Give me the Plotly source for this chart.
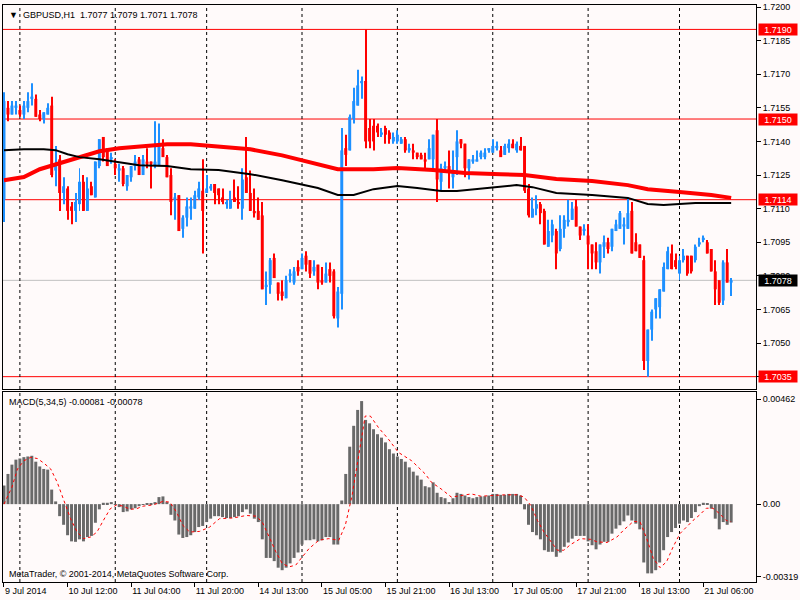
import plotly.graph_objects as go

# GBPUSD H1, bar 0 = 9 Jul 2014 20:00
opens = [1.7114, 1.7155, 1.7152, 1.7155, 1.7154, 1.7152, 1.7155, 1.7159, 1.7159, 1.7152,
         1.7150, 1.7152, 1.7156, 1.7127, 1.7132, 1.7117, 1.7119, 1.7111, 1.7109, 1.7112,
         1.7122, 1.7109, 1.7120, 1.7115, 1.7129, 1.7142, 1.7136, 1.7132, 1.7130, 1.7127,
         1.7128, 1.7120, 1.7124, 1.7129, 1.7132, 1.7125, 1.7131, 1.7131, 1.7129, 1.7129,
         1.7137, 1.7133, 1.7125, 1.7114, 1.7116, 1.7101, 1.7106, 1.7110, 1.7110, 1.7115,
         1.7118, 1.7117, 1.7119, 1.7121, 1.7119, 1.7115, 1.7112, 1.7110, 1.7115, 1.7113,
         1.7110, 1.7124, 1.7117, 1.7109, 1.7109, 1.7107, 1.7075, 1.7076, 1.7088, 1.7077,
         1.7073, 1.7070, 1.7080, 1.7077, 1.7084, 1.7083, 1.7089, 1.7087, 1.7082, 1.7085,
         1.7078, 1.7077, 1.7083, 1.7082, 1.7061, 1.7072, 1.7137, 1.7136, 1.7150, 1.7156,
         1.7166, 1.7167, 1.7146, 1.7147, 1.7147, 1.7143, 1.7146, 1.7144, 1.7140, 1.7140,
         1.7139, 1.7141, 1.7136, 1.7136, 1.7135, 1.7134, 1.7132, 1.7132, 1.7132, 1.7145,
         1.7122, 1.7128, 1.7129, 1.7124, 1.7133, 1.7141, 1.7139, 1.7128, 1.7131, 1.7131,
         1.7133, 1.7133, 1.7136, 1.7135, 1.7137, 1.7136, 1.7134, 1.7137, 1.7139, 1.7136,
         1.7138, 1.7138, 1.7119, 1.7106, 1.7110, 1.7112, 1.7109, 1.7093, 1.7098, 1.7100,
         1.7092, 1.7101, 1.7104, 1.7105, 1.7111, 1.7102, 1.7100, 1.7098, 1.7094, 1.7091,
         1.7086, 1.7093, 1.7095, 1.7093, 1.7100, 1.7101, 1.7102, 1.7101, 1.7109, 1.7095,
         1.7094, 1.7087, 1.7042, 1.7056, 1.7065, 1.7066, 1.7073, 1.7083, 1.7090, 1.7087,
         1.7081, 1.7087, 1.7089, 1.7089, 1.7087, 1.7094, 1.7096, 1.7095, 1.7092, 1.7082,
         1.7078, 1.7069, 1.7086, 1.7077]
highs = [1.7162, 1.7158, 1.7158, 1.7158, 1.7156, 1.7158, 1.7162, 1.7166, 1.7161, 1.7154,
         1.7153, 1.7157, 1.7160, 1.7138, 1.7134, 1.7124, 1.7120, 1.7113, 1.7117, 1.7128,
         1.7125, 1.7124, 1.7122, 1.7131, 1.7141, 1.7142, 1.7137, 1.7135, 1.7132, 1.7130,
         1.7129, 1.7125, 1.7129, 1.7134, 1.7133, 1.7134, 1.7137, 1.7131, 1.7149, 1.7148,
         1.7141, 1.7134, 1.7128, 1.7117, 1.7116, 1.7107, 1.7115, 1.7115, 1.7118, 1.7122,
         1.7132, 1.7125, 1.7121, 1.7121, 1.7119, 1.7119, 1.7114, 1.7118, 1.7123, 1.7120,
         1.7128, 1.7142, 1.7127, 1.7119, 1.7115, 1.7113, 1.7082, 1.7088, 1.7090, 1.7077,
         1.7078, 1.7080, 1.7083, 1.7084, 1.7087, 1.7090, 1.7091, 1.7087, 1.7087, 1.7085,
         1.7084, 1.7086, 1.7086, 1.7083, 1.7075, 1.7146, 1.7143, 1.7152, 1.7164, 1.7172,
         1.7169, 1.7190, 1.7150, 1.7150, 1.7148, 1.7146, 1.7147, 1.7145, 1.7144, 1.7145,
         1.7142, 1.7142, 1.7139, 1.7139, 1.7135, 1.7135, 1.7135, 1.7141, 1.7143, 1.7150,
         1.7130, 1.7131, 1.7136, 1.7136, 1.7145, 1.7141, 1.7139, 1.7132, 1.7134, 1.7136,
         1.7136, 1.7137, 1.7137, 1.7141, 1.7140, 1.7138, 1.7139, 1.7141, 1.7141, 1.7140,
         1.7142, 1.7138, 1.7121, 1.7115, 1.7116, 1.7113, 1.7110, 1.7105, 1.7105, 1.7101,
         1.7107, 1.7107, 1.7114, 1.7113, 1.7114, 1.7102, 1.7103, 1.7103, 1.7094, 1.7095,
         1.7094, 1.7098, 1.7097, 1.7101, 1.7105, 1.7109, 1.7106, 1.7115, 1.7113, 1.7099,
         1.7094, 1.7089, 1.7056, 1.7065, 1.7070, 1.7074, 1.7086, 1.7093, 1.7094, 1.7090,
         1.7089, 1.7092, 1.7089, 1.7089, 1.7094, 1.7097, 1.7098, 1.7096, 1.7092, 1.7087,
         1.7078, 1.7087, 1.7092, 1.7079]
lows = [1.7104, 1.7149, 1.7152, 1.7152, 1.7151, 1.7150, 1.7153, 1.7156, 1.7151, 1.7149,
        1.7148, 1.7152, 1.7124, 1.7120, 1.7109, 1.7112, 1.7105, 1.7103, 1.7104, 1.7109,
        1.7109, 1.7109, 1.7116, 1.7115, 1.7128, 1.7131, 1.7129, 1.7130, 1.7125, 1.7122,
        1.7120, 1.7118, 1.7122, 1.7127, 1.7125, 1.7125, 1.7128, 1.7119, 1.7128, 1.7129,
        1.7133, 1.7124, 1.7107, 1.7105, 1.7100, 1.7097, 1.7102, 1.7105, 1.7110, 1.7114,
        1.7090, 1.7117, 1.7118, 1.7112, 1.7112, 1.7112, 1.7110, 1.7110, 1.7113, 1.7110,
        1.7105, 1.7117, 1.7109, 1.7106, 1.7105, 1.7074, 1.7067, 1.7072, 1.7079, 1.7069,
        1.7069, 1.7070, 1.7077, 1.7076, 1.7080, 1.7083, 1.7082, 1.7079, 1.7080, 1.7074,
        1.7076, 1.7077, 1.7077, 1.7061, 1.7057, 1.7065, 1.7129, 1.7136, 1.7148, 1.7156,
        1.7159, 1.7137, 1.7137, 1.7136, 1.7142, 1.7142, 1.7139, 1.7139, 1.7139, 1.7139,
        1.7139, 1.7135, 1.7135, 1.7132, 1.7132, 1.7132, 1.7127, 1.7132, 1.7127, 1.7113,
        1.7118, 1.7126, 1.7119, 1.7119, 1.7125, 1.7137, 1.7124, 1.7123, 1.7130, 1.7131,
        1.7132, 1.7132, 1.7135, 1.7135, 1.7136, 1.7133, 1.7134, 1.7135, 1.7137, 1.7135,
        1.7136, 1.7117, 1.7106, 1.7106, 1.7107, 1.7103, 1.7094, 1.7093, 1.7095, 1.7083,
        1.7091, 1.7097, 1.7102, 1.7105, 1.7102, 1.7096, 1.7098, 1.7083, 1.7083, 1.7083,
        1.7081, 1.7088, 1.7090, 1.7091, 1.7100, 1.7101, 1.7094, 1.7101, 1.7090, 1.7091,
        1.7088, 1.7038, 1.7035, 1.7051, 1.7061, 1.7061, 1.7073, 1.7083, 1.7083, 1.7083,
        1.7078, 1.7086, 1.7080, 1.7081, 1.7086, 1.7093, 1.7095, 1.7090, 1.7082, 1.7067,
        1.7067, 1.7067, 1.7077, 1.7071]
closes = [1.7158, 1.7152, 1.7156, 1.7156, 1.7152, 1.7156, 1.7158, 1.7160, 1.7151, 1.7150,
          1.7153, 1.7155, 1.7125, 1.7129, 1.7117, 1.7120, 1.7109, 1.7109, 1.7113, 1.7122,
          1.7109, 1.7119, 1.7116, 1.7131, 1.7141, 1.7133, 1.7129, 1.7133, 1.7128, 1.7128,
          1.7121, 1.7125, 1.7129, 1.7131, 1.7125, 1.7132, 1.7130, 1.7130, 1.7131, 1.7138,
          1.7133, 1.7124, 1.7113, 1.7115, 1.7100, 1.7106, 1.7111, 1.7111, 1.7116, 1.7119,
          1.7109, 1.7119, 1.7120, 1.7117, 1.7116, 1.7113, 1.7113, 1.7114, 1.7113, 1.7112,
          1.7123, 1.7117, 1.7109, 1.7108, 1.7105, 1.7074, 1.7076, 1.7087, 1.7079, 1.7072,
          1.7071, 1.7078, 1.7081, 1.7082, 1.7082, 1.7088, 1.7085, 1.7081, 1.7084, 1.7077,
          1.7077, 1.7081, 1.7080, 1.7062, 1.7073, 1.7136, 1.7134, 1.7151, 1.7158, 1.7165,
          1.7167, 1.7140, 1.7140, 1.7140, 1.7144, 1.7144, 1.7143, 1.7141, 1.7142, 1.7143,
          1.7141, 1.7136, 1.7137, 1.7135, 1.7133, 1.7132, 1.7131, 1.7137, 1.7143, 1.7123,
          1.7128, 1.7129, 1.7126, 1.7127, 1.7140, 1.7139, 1.7128, 1.7132, 1.7132, 1.7132,
          1.7135, 1.7135, 1.7137, 1.7138, 1.7138, 1.7133, 1.7138, 1.7139, 1.7137, 1.7139,
          1.7136, 1.7118, 1.7107, 1.7110, 1.7112, 1.7108, 1.7094, 1.7100, 1.7103, 1.7090,
          1.7101, 1.7105, 1.7105, 1.7110, 1.7102, 1.7098, 1.7101, 1.7094, 1.7090, 1.7086,
          1.7094, 1.7095, 1.7092, 1.7101, 1.7103, 1.7108, 1.7103, 1.7108, 1.7090, 1.7091,
          1.7088, 1.7042, 1.7056, 1.7064, 1.7070, 1.7074, 1.7084, 1.7091, 1.7083, 1.7084,
          1.7087, 1.7089, 1.7081, 1.7082, 1.7093, 1.7095, 1.7097, 1.7090, 1.7082, 1.7074,
          1.7068, 1.7086, 1.7077, 1.7078]

# moving averages (at these bars)
red_ma_bars = [0, 5, 9, 14, 19, 24, 29, 34, 41, 47, 54, 62, 70, 79, 84, 93, 99,
               108, 116, 125, 131, 139, 148, 157, 162, 170, 178, 183]
red_ma = [1.71227, 1.71241, 1.71276, 1.71303, 1.71330, 1.71356, 1.71370, 1.71378,
          1.71387, 1.71387, 1.71378, 1.71365, 1.71338, 1.71298, 1.71276, 1.71276,
          1.71281, 1.71272, 1.71259, 1.71254, 1.71250, 1.71232, 1.71223, 1.71205,
          1.71187, 1.71174, 1.71161, 1.71148]
black_ma_bars = [0, 5, 10, 13, 16, 19, 24, 29, 34, 41, 47, 54, 62, 70, 79, 84, 88,
                 93, 99, 104, 110, 114, 119, 125, 129, 133, 139, 148, 157, 162, 166,
                 170, 174, 183]
black_ma = [1.71361, 1.71365, 1.71365, 1.71361, 1.71343, 1.71330, 1.71321, 1.71307,
            1.71294, 1.71290, 1.71276, 1.71272, 1.71254, 1.71227, 1.71192, 1.71161,
            1.71161, 1.71187, 1.71201, 1.71192, 1.71179, 1.71179, 1.71187, 1.71196,
            1.71205, 1.71196, 1.71170, 1.71161, 1.71148, 1.71121, 1.71116, 1.71121,
            1.71125, 1.71125]

# MACD(5,34,5) main values and signal line
macd = [0.00082, 0.00133, 0.00174, 0.00196, 0.00201, 0.00207, 0.00210, 0.00213, 0.00187, 0.00166,
        0.00155, 0.00152, 0.00064, 0.00012, -0.00053, -0.00091, -0.00137, -0.00164, -0.00166, -0.00155,
        -0.00164, -0.00145, -0.00140, -0.00082, -0.00023, 0.00006, 0.00006, 0.00009, -0.00003, -0.00013,
        -0.00035, -0.00032, -0.00023, -0.00018, -0.00009, -0.00003, 0.00001, 0.00004, 0.00009, 0.00031,
        0.00034, 0.00009, -0.00047, -0.00072, -0.00134, -0.00149, -0.00145, -0.00137, -0.00123, -0.00101,
        -0.00096, -0.00079, -0.00064, -0.00053, -0.00053, -0.00057, -0.00061, -0.00061, -0.00057, -0.00053,
        -0.00035, -0.00023, -0.00042, -0.00064, -0.00079, -0.00155, -0.00237, -0.00237, -0.00251, -0.00280,
        -0.00291, -0.00280, -0.00261, -0.00237, -0.00213, -0.00178, -0.00159, -0.00159, -0.00155, -0.00164,
        -0.00159, -0.00145, -0.00145, -0.00178, -0.00178, 0.00016, 0.00133, 0.00253, 0.00345, 0.00415,
        0.00454, 0.00371, 0.00356, 0.00330, 0.00308, 0.00293, 0.00272, 0.00242, 0.00223, 0.00210,
        0.00199, 0.00187, 0.00162, 0.00143, 0.00126, 0.00108, 0.00079, 0.00074, 0.00096, 0.00050,
        0.00031, 0.00026, 0.00009, 0.00026, 0.00050, 0.00045, 0.00038, 0.00031, 0.00026, 0.00031,
        0.00034, 0.00035, 0.00038, 0.00045, 0.00045, 0.00041, 0.00041, 0.00045, 0.00045, 0.00045,
        0.00038, -0.00023, -0.00091, -0.00123, -0.00137, -0.00155, -0.00203, -0.00210, -0.00210, -0.00232,
        -0.00213, -0.00188, -0.00169, -0.00152, -0.00140, -0.00140, -0.00140, -0.00164, -0.00181, -0.00199,
        -0.00178, -0.00166, -0.00166, -0.00130, -0.00108, -0.00093, -0.00076, -0.00050, -0.00072, -0.00086,
        -0.00111, -0.00257, -0.00305, -0.00305, -0.00291, -0.00257, -0.00203, -0.00145, -0.00123, -0.00105,
        -0.00086, -0.00072, -0.00079, -0.00061, -0.00035, -0.00009, 0.00006, 0.00001, -0.00020, -0.00064,
        -0.00111, -0.00079, -0.00091, -0.00081]
signal_bars = [0, 2, 3.4, 5, 6.7, 8.4, 10, 11.75, 13.4, 15, 16.75, 18.4, 20, 21.75, 23.4, 25,
               26.75, 28.4, 30, 31.75, 33.4, 35, 37.6, 40, 41.75, 43.4, 45, 46.75, 49.25, 51.75,
               54.25, 57.6, 61, 63.4, 65, 66.75, 68.4, 70, 71.75, 73.4, 75, 76.75, 79.25, 81.75,
               84.25, 85.9, 87.6, 89.25, 90.9, 92.2, 94.25, 96.75, 99.25, 102.6, 106, 107.6, 110,
               112.6, 115, 117.6, 120, 122.6, 126, 129.25, 130.9, 132.6, 134.25, 135.9, 137.6,
               139.25, 140.9, 142.6, 145.1, 147.6, 149.25, 151.75, 154.25, 155.9, 158.4, 160.1,
               161.75, 163.4, 165.1, 166.75, 168.4, 170.1, 171.75, 173.4, 175.1, 176.75, 178.4,
               180.1, 181.75, 183]
signal = [0.0, 0.00075, 0.00155, 0.00191, 0.00206, 0.00201, 0.00181, 0.00155, 0.00096, 0.00023,
          -0.00064, -0.00123, -0.00152, -0.00145, -0.00123, -0.00072, -0.00020, -0.00003, -0.00009,
          -0.00023, -0.00020, -0.00009, -0.00003, 0.00012, 0.00009, -0.00035, -0.00093, -0.00123,
          -0.00120, -0.00101, -0.00064, -0.00061, -0.00050, -0.00053, -0.00079, -0.00145, -0.00210,
          -0.00261, -0.00276, -0.00269, -0.00232, -0.00196, -0.00159, -0.00152, -0.00159, -0.00093,
          0.00038, 0.00206, 0.00388, 0.00388, 0.00337, 0.00286, 0.00228, 0.00191, 0.00133, 0.00096,
          0.00067, 0.00031, 0.00038, 0.00045, 0.00035, 0.00038, 0.00041, 0.00041, 0.00031, -0.00006,
          -0.00072, -0.00123, -0.00166, -0.00203, -0.00203, -0.00178, -0.00152, -0.00155, -0.00166,
          -0.00169, -0.00145, -0.00115, -0.00076, -0.00079, -0.00152, -0.00239, -0.00280, -0.00254,
          -0.00188, -0.00130, -0.00101, -0.00072, -0.00047, -0.00018, -0.00018, -0.00042, -0.00072,
          -0.00078]

levels = [1.7190, 1.7150, 1.7114, 1.7035]
bid = 1.7078
day_starts = [4, 28, 51, 75, 99, 123, 147, 170]
tick_bars = [0, 16, 32, 48, 64, 80, 96, 112, 128, 144, 160, 176]
tick_text = ["9 Jul 2014", "10 Jul 12:00", "11 Jul 04:00", "11 Jul 20:00", "14 Jul 13:00",
             "15 Jul 05:00", "15 Jul 21:00", "16 Jul 13:00", "17 Jul 05:00", "17 Jul 21:00",
             "18 Jul 13:00", "21 Jul 06:00"]
price_ticks = [1.7200, 1.7185, 1.7170, 1.7155, 1.7140, 1.7125, 1.7110, 1.7095, 1.7080,
               1.7065, 1.7050, 1.7035]
macd_ticks = [0.00462, 0.0, -0.00319]
macd_tick_text = ["0.00462", "0.00", "-0.00319"]

BULL = "#1E90FF"
BEAR = "#FF0000"
BG = "#FFFAFA"
FONT = "Liberation Sans, Arial, sans-serif"

bars = list(range(len(opens)))
up = [i for i in bars if closes[i] >= opens[i]]
dn = [i for i in bars if closes[i] < opens[i]]

fig = go.Figure()

for idx, col in ((up, BULL), (dn, BEAR)):
    fig.add_trace(go.Bar(
        x=idx, base=[lows[i] for i in idx], y=[highs[i] - lows[i] for i in idx],
        width=0.25, marker=dict(color=col, line=dict(width=0)),
        xaxis="x", yaxis="y", showlegend=False, hoverinfo="skip"))
    fig.add_trace(go.Bar(
        x=idx, base=[min(opens[i], closes[i]) for i in idx],
        y=[abs(closes[i] - opens[i]) for i in idx],
        width=0.75, marker=dict(color=col, line=dict(width=0)),
        xaxis="x", yaxis="y", showlegend=False, hoverinfo="skip"))

fig.add_trace(go.Scatter(x=red_ma_bars, y=red_ma, mode="lines",
                         line=dict(color="#FF0000", width=4),
                         xaxis="x", yaxis="y", showlegend=False))
fig.add_trace(go.Scatter(x=black_ma_bars, y=black_ma, mode="lines",
                         line=dict(color="#000000", width=2),
                         xaxis="x", yaxis="y", showlegend=False))

fig.add_trace(go.Bar(x=bars, y=macd, width=0.75,
                     marker=dict(color="#696969", line=dict(width=0)),
                     xaxis="x2", yaxis="y2", showlegend=False))
fig.add_trace(go.Scatter(x=signal_bars, y=signal, mode="lines",
                         line=dict(color="#FF0000", width=1, dash="dot"),
                         xaxis="x2", yaxis="y2", showlegend=False))

shapes = []
for lv in levels:
    shapes.append(dict(type="line", xref="x domain", x0=0, x1=1, yref="y", y0=lv, y1=lv,
                       line=dict(color="#FF0000", width=1), layer="below"))
shapes.append(dict(type="line", xref="x domain", x0=0, x1=1, yref="y", y0=bid, y1=bid,
                   line=dict(color="#C0C0C0", width=1), layer="below"))
for d in day_starts:
    for yr in ("y domain", "y2 domain"):
        shapes.append(dict(type="line", xref="x", x0=d, x1=d, yref=yr, y0=0, y1=1,
                           line=dict(color="#000000", width=1, dash="3px,3px"), layer="below"))

annotations = []
for lv in levels:
    annotations.append(dict(xref="paper", x=1, xanchor="left", xshift=2, yref="y", y=lv,
                            text=f"{lv:.4f}", showarrow=False, bgcolor="#FF0000",
                            font=dict(color="white", size=9, family=FONT),
                            width=36, height=9, borderpad=1))
annotations.append(dict(xref="paper", x=1, xanchor="left", xshift=2, yref="y", y=bid,
                        text=f"{bid:.4f}", showarrow=False, bgcolor="#000000",
                        font=dict(color="white", size=9, family=FONT),
                        width=36, height=9, borderpad=1))
annotations.append(dict(xref="paper", x=0, xanchor="left", xshift=4, yref="y domain", y=1,
                        yanchor="top", yshift=-3, showarrow=False,
                        text="▼  GBPUSD,H1  1.7077 1.7079 1.7071 1.7078",
                        font=dict(color="black", size=9, family=FONT)))
annotations.append(dict(xref="paper", x=0, xanchor="left", xshift=4, yref="y2 domain", y=1,
                        yanchor="top", yshift=-3, showarrow=False,
                        text="MACD(5,34,5) -0.00081 -0.00078",
                        font=dict(color="black", size=9, family=FONT)))
annotations.append(dict(xref="paper", x=0, xanchor="left", xshift=4, yref="y2 domain", y=0,
                        yanchor="bottom", yshift=1, showarrow=False,
                        text="MetaTrader, © 2001-2014, MetaQuotes Software Corp.",
                        font=dict(color="black", size=9, family=FONT)))

axis_common = dict(showgrid=False, zeroline=False, showline=True, mirror=True,
                   linecolor="black", linewidth=1)

fig.update_layout(
    width=800, height=600,
    margin=dict(l=2, r=40, t=2, b=18),
    paper_bgcolor=BG, plot_bgcolor=BG,
    barmode="overlay", showlegend=False,
    font=dict(family=FONT, size=9, color="black"),
    xaxis=dict(domain=[0, 1], range=[-0.25, 189.25], anchor="y",
               showticklabels=False, ticks="", **axis_common),
    xaxis2=dict(domain=[0, 1], range=[-0.25, 189.25], anchor="y2", matches="x",
                tickmode="array", tickvals=tick_bars, ticktext=tick_text,
                ticks="outside", ticklen=4, tickcolor="black",
                ticklabelposition="outside right", **axis_common),
    yaxis=dict(domain=[0.3345, 1], range=[1.70295, 1.72009], side="right", anchor="x",
               tickmode="array", tickvals=price_ticks,
               ticktext=[f"{p:.4f}" for p in price_ticks],
               ticks="outside", ticklen=4, tickcolor="black", **axis_common),
    yaxis2=dict(domain=[0, 0.3293], range=[-0.00343, 0.00494], side="right", anchor="x2",
                tickmode="array", tickvals=macd_ticks, ticktext=macd_tick_text,
                ticks="outside", ticklen=4, tickcolor="black", **axis_common),
    shapes=shapes,
    annotations=annotations,
)

# page body has a default margin; drop it so the chart sits at the window corner
fig.write_html("out.html", config={"displayModeBar": False},
               post_script="document.body.style.margin='0px';")
